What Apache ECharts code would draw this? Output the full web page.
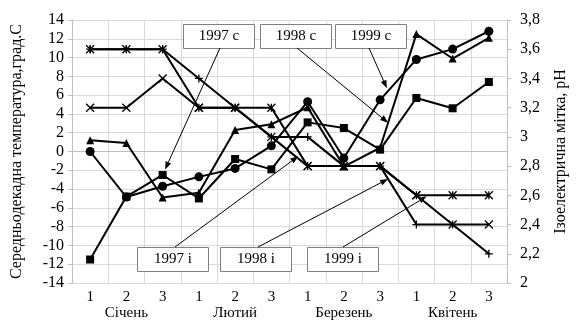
<!DOCTYPE html>
<html>
<head>
<meta charset="utf-8">
<script src="https://cdn.jsdelivr.net/npm/echarts@6/dist/echarts.min.js"></script>
<style>
  html, body { margin: 0; padding: 0; background: #fff; }
  #chart { width: 577px; height: 322px; }
</style>
</head>
<body>
<div id="chart"></div>
<script>
// декади по місяцях
var categories = ['1', '2', '3', '1', '2', '3', '1', '2', '3', '1', '2', '3'];
var months = ['Січень', 'Лютий', 'Березень', 'Квітень'];

// температура, град.С
var temp1997 = [-11.5, -4.8, -2.5, -5.0, -0.8, -1.9, 3.1, 2.5, 0.2, 5.7, 4.6, 7.4];
var temp1998 = [1.2, 0.9, -4.9, -4.4, 2.3, 2.9, 4.7, -1.6, 0.4, 12.5, 9.9, 12.1];
var temp1999 = [0, -4.85, -3.7, -2.7, -1.8, 0.6, 5.3, -0.7, 5.5, 9.8, 10.9, 12.8];

// ізоелектрична мітка, pH
var ph1997 = [3.2, 3.2, 3.4, 3.2, 3.2, 3.0, 2.8, 2.8, 2.8, 2.6, 2.4, 2.4];
var ph1998 = [3.6, 3.6, 3.6, 3.4, 3.2, 3.0, 3.0, 2.8, 2.8, 2.4, 2.4, 2.2];
var ph1999 = [3.6, 3.6, 3.6, 3.2, 3.2, 3.2, 2.8, 2.8, 2.8, 2.6, 2.6, 2.6];

var leftTicks = [-14, 14, 2];
var rightTicks = [2, 3.8, 0.2];

var FONT = 'Liberation Serif';
var SYM_X = 'path://M0,0L10,10M10,0L0,10';
var SYM_PLUS = 'path://M5,0L5,10M0,5L10,5';
var SYM_STAR = 'path://M0,0L10,10M10,0L0,10M5,0L5,10';

var myChart = echarts.init(document.getElementById('chart'), null, {renderer: 'canvas'});

function lineSeries(name, data, symbol, axis, size, stroke) {
    return {
        name: name,
        type: 'line',
        yAxisIndex: axis,
        data: data,
        symbol: symbol,
        symbolSize: size,
        showAllSymbol: true,
        lineStyle: {color: '#000', width: 2},
        itemStyle: stroke
            ? {color: 'rgba(0,0,0,0)', borderColor: '#000', borderWidth: 1.3}
            : {color: '#000', borderColor: '#000', borderWidth: 0},
        emphasis: {disabled: true},
        animation: false,
        z: 3
    };
}

var option = {
    animation: false,
    grid: {left: 72, right: 62, top: 20, bottom: 39},
    xAxis: [{
        type: 'category',
        data: categories,
        boundaryGap: true,
        axisLine: {lineStyle: {color: '#bfbfbf'}},
        axisTick: {show: false},
        axisLabel: {color: '#000', fontFamily: FONT, fontSize: 15, margin: 7},
        splitLine: {show: true, interval: 0, lineStyle: {color: '#d9d9d9'}}
    }, {
        type: 'category',
        data: months,
        position: 'bottom',
        offset: 16,
        axisLine: {show: false},
        axisTick: {show: false},
        axisLabel: {color: '#000', fontFamily: FONT, fontSize: 15, margin: 7},
        splitLine: {show: false}
    }],
    yAxis: [{
        type: 'value',
        min: leftTicks[0], max: leftTicks[1], interval: leftTicks[2],
        name: 'Середньодекадна температура,град.С',
        nameLocation: 'middle',
        nameGap: 47,
        nameTextStyle: {color: '#000', fontFamily: FONT, fontSize: 16},
        axisLine: {show: true, lineStyle: {color: '#bfbfbf'}},
        axisTick: {show: true, length: 4, lineStyle: {color: '#bfbfbf'}},
        axisLabel: {color: '#000', fontFamily: FONT, fontSize: 16, margin: 8},
        splitLine: {show: true, lineStyle: {color: '#d9d9d9'}}
    }, {
        type: 'value',
        min: rightTicks[0], max: rightTicks[1], interval: rightTicks[2],
        name: 'Ізоелектрична мітка, рН',
        nameLocation: 'middle',
        nameGap: 46,
        nameRotate: 90,
        nameTextStyle: {color: '#000', fontFamily: FONT, fontSize: 16},
        axisLine: {show: true, lineStyle: {color: '#bfbfbf'}},
        axisTick: {show: true, length: 4, lineStyle: {color: '#bfbfbf'}},
        axisLabel: {
            color: '#000', fontFamily: FONT, fontSize: 16, margin: 13,
            formatter: function (v) { return String(Math.round(v * 10) / 10).replace('.', ','); }
        },
        splitLine: {show: false}
    }],
    series: [
        lineSeries('1997 с', temp1997, 'rect', 0, 8, false),
        lineSeries('1998 с', temp1998, 'triangle', 0, 8, false),
        lineSeries('1999 с', temp1999, 'circle', 0, 9, false),
        lineSeries('1997 і', ph1997, SYM_X, 1, 8, true),
        lineSeries('1998 і', ph1998, SYM_PLUS, 1, 8, true),
        lineSeries('1999 і', ph1999, SYM_STAR, 1, 8, true)
    ]
};
myChart.setOption(option);

// виноски: рамка з текстом і стрілка на лінію ряду
var callouts = [
    {text: '1997 с', box: [183, 24], from: [220, 48], data: temp1997, axis: 0, i: 2, t: 0, back: 6},
    {text: '1998 с', box: [260, 24], from: [297, 48], data: temp1998, axis: 0, i: 8, t: 0.22, back: 0},
    {text: '1999 с', box: [335, 24], from: [369, 48], data: temp1999, axis: 0, i: 8, t: 0.22, back: 3},
    {text: '1997 і', box: [137, 247], from: [175, 247], data: ph1997, axis: 1, i: 5, t: 0.7, back: -2},
    {text: '1998 і', box: [220, 247], from: [258, 247], data: ph1998, axis: 1, i: 8, t: 0.22, back: 0},
    {text: '1999 і', box: [307, 247], from: [343, 247], data: ph1999, axis: 1, i: 9, t: 0.33, back: 2}
];

function px(axis, i, v) {
    return myChart.convertToPixel({xAxisIndex: 0, yAxisIndex: axis}, [i, v]);
}

var graphics = [];
callouts.forEach(function (c) {
    var a = px(c.axis, c.i, c.data[c.i]);
    var b = c.t > 0 ? px(c.axis, c.i + 1, c.data[c.i + 1]) : a;
    var tx = a[0] + (b[0] - a[0]) * c.t;
    var ty = a[1] + (b[1] - a[1]) * c.t;
    var dx = tx - c.from[0], dy = ty - c.from[1];
    var len = Math.sqrt(dx * dx + dy * dy);
    var ux = dx / len, uy = dy / len;
    // кінець стрілки трохи не доходить до точки
    tx -= ux * c.back; ty -= uy * c.back;
    var hl = 8, hw = 3;
    var bx = tx - ux * hl, by = ty - uy * hl;
    graphics.push({
        type: 'line', silent: true, z: 10,
        shape: {x1: c.from[0], y1: c.from[1], x2: bx, y2: by},
        style: {stroke: '#000', lineWidth: 1}
    });
    graphics.push({
        type: 'polygon', silent: true, z: 10,
        shape: {points: [[tx, ty], [bx - uy * hw, by + ux * hw], [bx + uy * hw, by - ux * hw]]},
        style: {fill: '#000'}
    });
    graphics.push({
        type: 'group', left: c.box[0], top: c.box[1], z: 11, silent: true,
        children: [{
            type: 'rect', shape: {x: 0, y: 0, width: 71, height: 24},
            style: {fill: '#fff', stroke: '#7f7f7f', lineWidth: 1}
        }, {
            type: 'text', x: 35.5, y: 12,
            style: {
                text: c.text, fill: '#000', fontFamily: FONT, fontSize: 15,
                align: 'center', verticalAlign: 'middle'
            }
        }]
    });
});
myChart.setOption({graphic: graphics});
</script>
</body>
</html>
